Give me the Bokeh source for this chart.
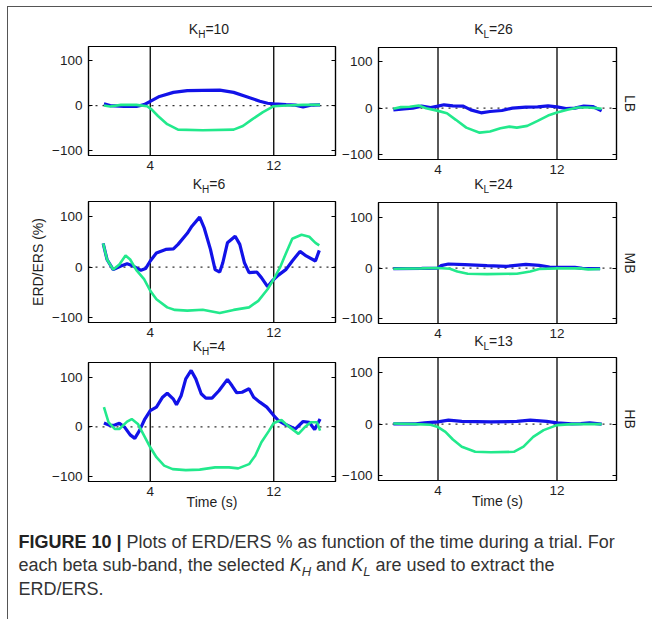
from bokeh.plotting import figure
from bokeh.models import Span, LinearAxis, FixedTicker, Range1d, Div
from bokeh.layouts import column, row
from bokeh.embed import file_html
from bokeh.resources import INLINE

FONT = "Liberation Sans"
BLUE = "#1212e8"
GREEN = "#22e98c"
INK = "#1e1e1e"

# ---------------- data ----------------
X_RANGE = (0, 16)
Y_RANGE = (-110, 130)
cue_times = [4, 12]
x_ticks = [4, 12]
y_ticks = [-100, 0, 100]

# LB band, K_H = 10
lb_h_t_blue = [1.0, 1.4, 2.3, 3.1, 3.6, 4.0, 4.6, 5.5, 6.4, 7.4, 8.5, 9.4, 10.2, 11.1, 11.6, 12.0, 12.8, 13.4, 13.9, 14.4, 15.0]
lb_h_blue = [4, 0, -2, -2, 2, 9, 20, 29, 33, 33.5, 34, 29, 20, 9.5, 5, 3.5, 2, 1, -3, 1, 1.5]
lb_h_t_green = [1.0, 1.4, 2.1, 3.1, 3.8, 4.1, 4.5, 5.1, 5.8, 7.4, 9.4, 10.0, 10.6, 11.3, 12.0, 12.8, 13.9, 15.0]
lb_h_green = [0, -2, 1.5, 1.5, -1.5, -9, -23, -41, -53, -54.5, -53, -45, -30.5, -14.5, -1.5, 0, 1.5, 1.5]

# LB band, K_L = 26
lb_l_t_blue = [1.0, 1.7, 2.3, 2.9, 3.5, 4.0, 4.4, 5.0, 5.7, 6.2, 6.9, 7.5, 8.3, 9.0, 9.9, 10.7, 11.4, 12.0, 12.6, 13.2, 13.8, 14.4, 15.0]
lb_l_blue = [-3.6, -1.4, 0, 4.3, 1.4, 4.3, 7.2, 5, 4.3, -3.6, -10, -7.2, -5, 0, 2.2, 2.9, 5, 2.9, -0.7, 0, 4.3, 3.6, -5.8]
lb_l_t_green = [1.0, 1.5, 2.1, 2.7, 3.2, 4.0, 4.6, 5.2, 5.9, 6.8, 7.5, 8.2, 8.8, 9.3, 10.0, 10.7, 11.4, 12.0, 12.7, 13.4, 14.1, 14.7, 15.0]
lb_l_green = [-1.4, 2.2, 2.9, 5.8, 0, -5.8, -10.8, -25, -41.7, -52.5, -50, -43, -39.5, -41.7, -38, -27.3, -15.8, -9.4, -3.6, 1.4, 1.4, 0, -1.4]

# MB band, K_H = 6
mb_h_t_blue = [0.95, 1.2, 1.6, 2.1, 2.5, 2.9, 3.4, 3.7, 4.0, 4.4, 5.0, 5.5, 5.8, 6.4, 6.7, 7.2, 7.5, 7.9, 8.2, 8.5, 8.7, 9.0, 9.5, 9.8, 10.1, 10.4, 10.9, 11.2, 11.6, 11.9, 12.3, 12.8, 13.2, 13.7, 14.1, 14.7, 14.95]
mb_h_blue = [47, 15, -5, 2, 6.5, 2, -6.5, -3, 12, 28, 35, 36, 45, 67, 81, 99, 77, 35, -5, -10, 8.5, 48, 61, 45, 8.5, -11, -10, -21, -39, -27.5, -16, -4.6, 12, 31, 22, 12, 33]
mb_h_t_green = [0.95, 1.2, 1.6, 2.0, 2.4, 2.7, 3.1, 3.6, 4.0, 4.4, 5.1, 5.6, 6.4, 7.4, 8.5, 9.4, 10.4, 11.0, 11.6, 12.0, 12.4, 12.8, 13.2, 13.8, 14.3, 14.7, 14.95]
mb_h_green = [47, 15, -5, 5, 23, 15, -6, -24, -47, -64, -80, -85, -86.5, -84.6, -91, -85, -80, -67, -44, -24, -1.3, 28, 56, 64, 60, 48, 43]

# MB band, K_L = 24
mb_l_t_blue = [1.0, 2.9, 4.0, 4.2, 4.7, 5.8, 7.3, 8.6, 9.9, 10.8, 11.5, 12.0, 13.2, 13.7, 14.9]
mb_l_blue = [-1.3, -0.7, 0, 4.7, 8, 6.7, 4.7, 3.3, 7.3, 5.3, 2, 1.3, 1.3, -0.7, -1.3]
mb_l_t_green = [1.0, 2.9, 4.0, 4.8, 5.3, 6.0, 7.3, 9.3, 10.2, 10.8, 12.0, 13.5, 14.1, 14.9]
mb_l_green = [-1.3, -0.7, 0, -1.3, -6.7, -11.3, -12, -11.3, -6.7, -2, -0.7, -0.7, -2.7, -2]

# HB band, K_H = 4
hb_h_t_blue = [1.0, 1.4, 1.7, 2.0, 2.35, 2.7, 3.0, 3.3, 3.65, 4.0, 4.4, 4.8, 5.1, 5.5, 5.7, 6.0, 6.3, 6.65, 6.95, 7.3, 7.6, 8.0, 8.45, 9.0, 9.3, 9.6, 9.95, 10.4, 10.7, 11.1, 11.55, 12.0, 12.3, 12.7, 13.4, 13.9, 14.3, 14.65, 15.0]
hb_h_blue = [8, 2.7, 4, 7.4, -0.7, -16, -23, -7.4, 16, 33, 40, 60, 68, 56, 45, 63, 97, 114, 97, 67, 58, 58, 73, 96, 83, 69, 70, 77, 60, 50, 40, 23, 13, 6, -4, 11, 9.4, -5.4, 16]
hb_h_t_green = [1.0, 1.3, 1.7, 2.0, 2.5, 2.8, 3.2, 3.6, 4.0, 4.4, 4.9, 5.45, 6.3, 7.2, 8.2, 9.1, 9.7, 10.4, 10.8, 11.2, 11.7, 12.0, 12.5, 12.9, 13.6, 14.0, 14.4, 14.8, 15.0]
hb_h_green = [40, 9.4, -4, -4, 10.8, 16, 6, -17.5, -41, -61, -78, -85, -87, -86, -81.5, -81.5, -83.5, -75, -58, -31, -7.4, 8, 14, 2.7, -14, -0.7, 9.4, 9.4, -7.4]

# HB band, K_L = 13
hb_l_t_blue = [1.0, 2.5, 3.1, 4.0, 4.7, 5.6, 7.55, 9.3, 10.2, 11.3, 12.0, 13.0, 13.6, 14.2, 15.0]
hb_l_blue = [0.5, 0.5, 2.6, 4.5, 7.8, 5.2, 4.5, 5.2, 7.8, 5.2, 2.6, 0.6, 1, 2.6, 0]
hb_l_t_green = [1.0, 2.5, 3.5, 4.0, 4.5, 5.0, 5.6, 6.5, 7.55, 9.1, 9.75, 10.4, 11.1, 12.0, 13.0, 15.0]
hb_l_green = [1.3, 0, -1.3, -5.8, -15, -30, -44, -54, -55, -54, -44, -25, -11.7, -2, 0, 0]

# panel titles (subscript letter, value)
titles = {"lb_h": ("H", "10"), "mb_h": ("H", "6"), "hb_h": ("H", "4"),
          "lb_l": ("L", "26"), "mb_l": ("L", "24"), "hb_l": ("L", "13")}


# ---------------- helpers ----------------
def title_div(sub, val, w, shift, fw, mtop=0):
    html = (
        f"<div style=\"position:relative;top:-1px;margin-left:{shift}px;width:{fw}px;"
        f"text-align:center;font-family:'Liberation Sans',Arial,sans-serif;font-size:14px;"
        f"line-height:16px;color:{INK};white-space:nowrap\">"
        f"K<sub style='font-size:10px;line-height:0;vertical-align:-4px'>{sub}</sub>={val}</div>"
    )
    d = Div(text=html, width=w, height=16)
    d.margin = (mtop, 0, 0, 0)
    return d


def make_panel(tb, vb, tg, vg, w, h, bl, br, bt, bb,
               band=None, ylabel=None, xlabel=None):
    p = figure(width=w, height=h, x_range=Range1d(*X_RANGE), y_range=Range1d(*Y_RANGE),
               output_backend="svg", toolbar_location=None,
               min_border_left=bl, min_border_right=br, min_border_top=bt, min_border_bottom=bb,
               border_fill_color=None, background_fill_color="white",
               outline_line_color="black", outline_line_width=1.2)
    try:
        p.title = None
    except Exception:
        p.title.text = ""
    p.grid.visible = False
    p.margin = (0, 0, 0, 0)

    xa = p.xaxis[0]
    xa.ticker = FixedTicker(ticks=x_ticks)
    xa.major_tick_in = 0
    xa.major_tick_out = 0
    xa.minor_tick_line_color = None
    xa.major_label_standoff = 5
    xa.major_label_text_font = FONT
    xa.major_label_text_font_size = "13.5px"
    xa.major_label_text_color = INK
    xa.axis_line_color = "black"
    xa.axis_line_width = 1.2
    if xlabel:
        xa.axis_label = xlabel
        xa.axis_label_text_font = FONT
        xa.axis_label_text_font_size = "14px"
        xa.axis_label_text_font_style = "normal"
        xa.axis_label_text_color = INK
        xa.axis_label_standoff = -5

    ya = p.yaxis[0]
    ya.ticker = FixedTicker(ticks=y_ticks)
    ya.major_tick_in = 4
    ya.major_tick_out = 0
    ya.minor_tick_line_color = None
    ya.major_label_standoff = 6
    ya.major_label_text_font = FONT
    ya.major_label_text_font_size = "13.5px"
    ya.major_label_text_color = INK
    ya.axis_line_color = "black"
    ya.axis_line_width = 1.2
    if ylabel:
        ya.axis_label = ylabel
        ya.axis_label_text_font = FONT
        ya.axis_label_text_font_size = "14px"
        ya.axis_label_text_font_style = "normal"
        ya.axis_label_text_color = INK
        ya.axis_label_standoff = 3

    ra = LinearAxis(ticker=FixedTicker(ticks=y_ticks), major_tick_in=4, major_tick_out=0,
                    major_label_overrides={t: "" for t in y_ticks}, major_label_standoff=0,
                    minor_tick_line_color=None, axis_line_color="black", axis_line_width=1.2)
    if band:
        ra.axis_label = band
        ra.axis_label_text_font = FONT
        ra.axis_label_text_font_size = "14px"
        ra.axis_label_text_font_style = "normal"
        ra.axis_label_text_color = INK
        ra.axis_label_standoff = 5
    p.add_layout(ra, "right")

    for c in cue_times:
        p.add_layout(Span(location=c, dimension="height", line_color="black",
                          line_width=1.3, level="underlay"))
    p.add_layout(Span(location=0, dimension="width", line_color="#333333",
                      line_width=1.3, line_dash="2 5", level="underlay"))

    p.line(tb, vb, line_color=BLUE, line_width=3.2)
    p.line(tg, vg, line_color=GREEN, line_width=2.6)
    return p


LW, RW = 333, 303
LBL, LBR, LFW = 80, 6, 247
RBL, RBR, RFW = 35, 26, 242

t1 = title_div(*titles["lb_h"], LW, LBL - 2, LFW, mtop=15)
p1 = make_panel(lb_h_t_blue, lb_h_blue, lb_h_t_green, lb_h_green, LW, 139, LBL, LBR, 8, 22)
t3 = title_div(*titles["mb_h"], LW, LBL - 2, LFW)
p3 = make_panel(mb_h_t_blue, mb_h_blue, mb_h_t_green, mb_h_green, LW, 151, LBL, LBR, 8, 22,
                ylabel="ERD/ERS (%)")
t5 = title_div(*titles["hb_h"], LW, LBL - 2, LFW, mtop=-5)
p5 = make_panel(hb_h_t_blue, hb_h_blue, hb_h_t_green, hb_h_green, LW, 160, LBL, LBR, 7, 34,
                xlabel="Time (s)")

t2 = title_div(*titles["lb_l"], RW, RBL - 1, RFW, mtop=15)
p2 = make_panel(lb_l_t_blue, lb_l_blue, lb_l_t_green, lb_l_green, RW, 143, RBL, RBR, 9, 22,
                band="LB")
t4 = title_div(*titles["mb_l"], RW, RBL - 1, RFW, mtop=-4)
p4 = make_panel(mb_l_t_blue, mb_l_blue, mb_l_t_green, mb_l_green, RW, 152, RBL, RBR, 9, 22,
                band="MB")
t6 = title_div(*titles["hb_l"], RW, RBL - 1, RFW, mtop=-11)
p6 = make_panel(hb_l_t_blue, hb_l_blue, hb_l_t_green, hb_l_green, RW, 165, RBL, RBR, 7, 35,
                band="HB", xlabel="Time (s)")

caption_html = (
    "<div style=\"font-family:'Liberation Sans',Arial,sans-serif;font-size:18px;"
    "line-height:23.5px;color:#333;padding:16px 0 0 11px;white-space:nowrap\">"
    "<b style='color:#222'>FIGURE 10 |</b> Plots of ERD/ERS % as function of the time during a trial. For<br>"
    "each beta sub-band, the selected <i>K<sub style='font-size:13px;line-height:0'>H</sub></i> and "
    "<i>K<sub style='font-size:13px;line-height:0'>L</sub></i> are used to extract the<br>"
    "ERD/ERS.</div>"
)
cap = Div(text=caption_html, width=644, height=104)
cap.margin = (0, 0, 0, 0)

left_col = column(t1, p1, t3, p3, t5, p5)
right_col = column(t2, p2, t4, p4, t6, p6)
left_col.margin = (0, 0, 0, 0)
right_col.margin = (0, 0, 0, -2)
plots = row(left_col, right_col)
plots.margin = (0, 0, 0, 0)

layout = column(
    plots,
    cap,
    styles={"border-left": "1.5px solid #555", "border-top": "1.5px solid #555",
            "margin-left": "6.5px", "margin-top": "5.5px"},
)

open("out.html", "w").write(file_html(layout, INLINE))
